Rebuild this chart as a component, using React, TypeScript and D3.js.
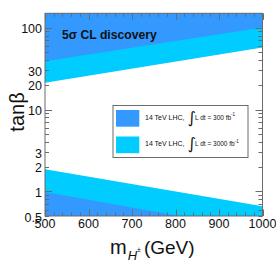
import React from "react";
import * as d3 from "d3";

// tanβ reach vs charged Higgs mass (edges of the 5σ regions)
const masses = [500, 1000];
const upper300 = [38.9, 100.4]; // high tanβ region, lower edge, 300 fb-1
const upper3000 = [21.2, 57.2]; // high tanβ region, lower edge, 3000 fb-1
const lower300 = [0.98, 0.33]; // low tanβ region, upper edge, 300 fb-1
const lower3000 = [1.86, 0.66]; // low tanβ region, upper edge, 3000 fb-1

const xTickLabels = [500, 600, 700, 800, 900, 1000];
const yTickLabels = [0.5, 1, 2, 3, 10, 20, 30, 100];
const legendLumis = ["300", "3000"];

const W = 276;
const H = 263;
const left = 45;
const right = 262.5;
const top = 13.3;
const bottom = 216;

const dark = "#3399ff";
const light = "#00ccff";
const frame = "#6b6b6b";
const font = "'Liberation Sans', Arial, Helvetica, sans-serif";

export default function App() {
  const x = d3.scaleLinear().domain([500, 1000]).range([left, right]);
  const y = d3.scaleLog().domain([0.5, 150]).range([bottom, top]);

  const pts = (vals: number[]) => masses.map((m, i) => ({ m, v: vals[i] }));

  const areaTop = d3
    .area<{ m: number; v: number }>()
    .x((d) => x(d.m))
    .y0(() => top - 2)
    .y1((d) => y(d.v));
  const areaBottom = d3
    .area<{ m: number; v: number }>()
    .x((d) => x(d.m))
    .y0(() => bottom + 2)
    .y1((d) => y(d.v));

  const yMinor = y.ticks();
  const yMajor = [1, 10, 100];
  const xMinor = x.ticks(25);

  return (
    <svg
      width={W}
      height={H}
      style={{ position: "absolute", left: 0, top: 0, background: "#fff" }}
      fontFamily={font}
    >
      <defs>
        <clipPath id="plot">
          <rect x={left} y={top} width={right - left} height={bottom - top} />
        </clipPath>
      </defs>
      <g clipPath="url(#plot)">
        <path d={areaTop(pts(upper3000)) ?? ""} fill={light} />
        <path d={areaTop(pts(upper300)) ?? ""} fill={dark} />
        <path d={areaBottom(pts(lower3000)) ?? ""} fill={light} />
        <path d={areaBottom(pts(lower300)) ?? ""} fill={dark} />
      </g>

      {/* ticks */}
      <g stroke={frame} strokeWidth={1}>
        {yMinor.map((t, i) => {
          const len = yMajor.includes(t) ? 7 : 4;
          const yy = Math.round(y(t)) + 0.5;
          return (
            <g key={i}>
              <line x1={left} x2={left + len} y1={yy} y2={yy} />
              <line x1={right} x2={right - len} y1={yy} y2={yy} />
            </g>
          );
        })}
        {xMinor.map((t, i) => {
          const len = t % 100 === 0 ? 6.5 : 3.5;
          const xx = Math.round(x(t)) + 0.5;
          return (
            <g key={i}>
              <line x1={xx} x2={xx} y1={bottom} y2={bottom - len} />
              <line x1={xx} x2={xx} y1={top} y2={top + len} />
            </g>
          );
        })}
      </g>
      <rect
        x={left}
        y={top}
        width={right - left}
        height={bottom - top}
        fill="none"
        stroke={frame}
        strokeWidth={1}
      />

      {/* tick labels */}
      <g fontSize={12.5} fill="#111">
        {yTickLabels.map((t) => (
          <text key={t} x={42} y={y(t) + 5.5} textAnchor="end">
            {t}
          </text>
        ))}
        {xTickLabels.map((t) => (
          <text key={t} x={x(t)} y={227.5} textAnchor="middle">
            {t}
          </text>
        ))}
      </g>

      {/* axis titles */}
      <text x={110} y={253.5} fontSize={20} fill="#111">
        m
        <tspan fontSize={13} fontStyle="italic" dx={1} dy={6}>
          H
        </tspan>
        <tspan fontSize={7} dy={-8}>
          ±
        </tspan>
        <tspan fontSize={19} dx={3} dy={2}>
          (GeV)
        </tspan>
      </text>
      <text
        transform="translate(24,112) rotate(-90)"
        fontSize={20}
        textAnchor="middle"
        fill="#111"
      >
        tanβ
      </text>

      <text x={62} y={39} fontSize={12.2} fontWeight="bold" fill="#111">
        5σ CL discovery
      </text>

      {/* legend */}
      <rect x={113} y={105.5} width={135} height={52} fill="#fff" stroke={frame} strokeWidth={1} />
      {legendLumis.map((l, i) => {
        const y0 = 110 + i * 26.5;
        return (
          <g key={l} fill="#111">
            <rect x={116} y={y0} width={23.3} height={16.7} fill={i === 0 ? dark : light} />
            <text x={145} y={y0 + 9.5} fontSize={7}>
              14 TeV LHC,
            </text>
            <text x={187.5} y={y0 + 12.5} fontSize={16} fontFamily="'DejaVu Sans', sans-serif">
              ∫
            </text>
            <text x={195} y={y0 + 9.5} fontSize={6.5}>
              L dt = {l} fb
              <tspan fontSize={4.5} dy={-3.5}>
                -1
              </tspan>
            </text>
          </g>
        );
      })}
    </svg>
  );
}
